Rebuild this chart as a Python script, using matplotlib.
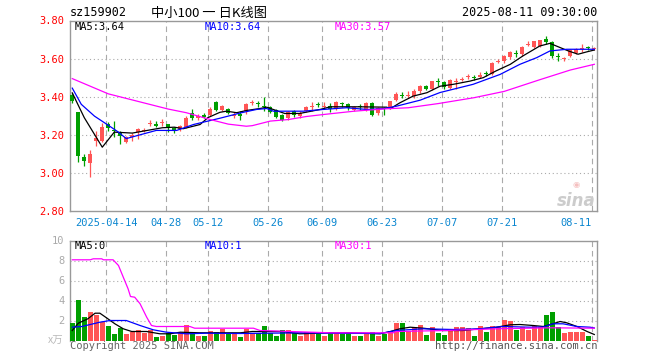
import matplotlib
matplotlib.use("Agg")
import matplotlib.pyplot as plt
import numpy as np

# K-line data, one entry per trading day (2025-04-03 .. 2025-08-11)
opens = [3.41, 3.32, 3.085, 3.05, 3.165, 3.17, 3.255, 3.225, 3.21, 3.16,
         3.19, 3.215, 3.22, 3.255, 3.255, 3.26, 3.255, 3.235, 3.23, 3.24,
         3.315, 3.29, 3.305, 3.305, 3.37, 3.33, 3.335, 3.30, 3.31, 3.325,
         3.365, 3.365, 3.35, 3.345, 3.33, 3.305, 3.29, 3.325, 3.30, 3.325,
         3.345, 3.36, 3.345, 3.35, 3.335, 3.365, 3.36, 3.33, 3.35, 3.33,
         3.365, 3.315, 3.34, 3.34, 3.385, 3.41, 3.405, 3.405, 3.43, 3.455,
         3.44, 3.48, 3.475, 3.445, 3.475, 3.49, 3.505, 3.505, 3.505, 3.525,
         3.52, 3.58, 3.59, 3.61, 3.63, 3.625, 3.67, 3.66, 3.665, 3.705,
         3.685, 3.615, 3.60, 3.615, 3.63, 3.65, 3.66, 3.65]
highs = [3.42, 3.32, 3.10, 3.12, 3.22, 3.26, 3.265, 3.27, 3.22, 3.195,
         3.21, 3.235, 3.235, 3.28, 3.275, 3.285, 3.255, 3.24, 3.25, 3.30,
         3.335, 3.31, 3.315, 3.345, 3.38, 3.355, 3.34, 3.32, 3.325, 3.365,
         3.385, 3.38, 3.40, 3.35, 3.335, 3.31, 3.325, 3.33, 3.325, 3.35,
         3.37, 3.37, 3.37, 3.365, 3.38, 3.37, 3.365, 3.35, 3.36, 3.37,
         3.37, 3.345, 3.345, 3.38, 3.425, 3.425, 3.43, 3.44, 3.46, 3.46,
         3.485, 3.50, 3.48, 3.495, 3.50, 3.505, 3.52, 3.515, 3.53, 3.535,
         3.58, 3.60, 3.62, 3.64, 3.645, 3.665, 3.69, 3.695, 3.70, 3.72,
         3.69, 3.63, 3.61, 3.65, 3.655, 3.675, 3.665, 3.66]
lows = [3.365, 3.055, 3.035, 2.98, 3.14, 3.16, 3.22, 3.19, 3.15, 3.155,
        3.17, 3.18, 3.215, 3.245, 3.24, 3.245, 3.215, 3.21, 3.22, 3.235,
        3.28, 3.28, 3.29, 3.30, 3.325, 3.325, 3.31, 3.29, 3.28, 3.31,
        3.355, 3.345, 3.325, 3.315, 3.29, 3.275, 3.28, 3.295, 3.29, 3.32,
        3.325, 3.345, 3.34, 3.32, 3.33, 3.345, 3.33, 3.325, 3.33, 3.325,
        3.30, 3.305, 3.305, 3.335, 3.375, 3.395, 3.395, 3.395, 3.42, 3.435,
        3.435, 3.455, 3.44, 3.44, 3.44, 3.48, 3.495, 3.49, 3.50, 3.51,
        3.515, 3.575, 3.575, 3.60, 3.61, 3.615, 3.665, 3.655, 3.66, 3.675,
        3.605, 3.585, 3.59, 3.61, 3.625, 3.635, 3.645, 3.645]
closes = [3.38, 3.09, 3.06, 3.10, 3.185, 3.24, 3.235, 3.22, 3.195, 3.19,
          3.20, 3.23, 3.225, 3.26, 3.245, 3.265, 3.235, 3.225, 3.245, 3.29,
          3.29, 3.30, 3.295, 3.335, 3.33, 3.35, 3.315, 3.305, 3.30, 3.36,
          3.37, 3.36, 3.345, 3.32, 3.295, 3.28, 3.32, 3.305, 3.315, 3.345,
          3.35, 3.355, 3.35, 3.335, 3.37, 3.36, 3.34, 3.345, 3.345, 3.365,
          3.305, 3.34, 3.335, 3.375, 3.415, 3.405, 3.41, 3.43, 3.455, 3.44,
          3.48, 3.475, 3.45, 3.49, 3.48, 3.495, 3.51, 3.50, 3.515, 3.52,
          3.575, 3.59, 3.615, 3.635, 3.625, 3.66, 3.675, 3.69, 3.70, 3.685,
          3.615, 3.61, 3.605, 3.645, 3.65, 3.655, 3.655, 3.655]
# volume (x10k)
volumes = [1.73, 4.1, 2.4, 2.9, 2.6, 1.83, 1.5, 0.67, 1.23, 0.67,
           0.83, 1.1, 0.73, 1.07, 0.4, 0.5, 0.73, 0.57, 0.9, 1.6,
           0.83, 0.5, 0.5, 1.0, 0.9, 1.17, 0.73, 0.67, 0.4, 1.17,
           0.73, 0.73, 1.5, 0.73, 0.5, 1.1, 1.1, 0.73, 0.5, 0.9,
           0.9, 0.67, 0.5, 0.9, 0.73, 0.67, 0.9, 0.5, 0.5, 0.73,
           0.9, 0.43, 0.67, 1.0, 1.73, 1.8, 1.0, 1.33, 1.6, 0.6,
           1.33, 0.73, 0.6, 1.0, 1.4, 1.33, 1.23, 0.5, 1.5, 0.83,
           1.5, 1.33, 2.1, 2.0, 1.07, 1.4, 1.1, 1.5, 1.33, 2.6,
           2.9, 1.4, 0.77, 0.9, 0.9, 0.83, 0.5, 0.1]

# moving average lines (day index, value)
ma5_x = [0, 2, 5, 7, 10, 15, 17, 18.5, 21.3, 22.6, 24.6, 25.7, 27.4, 29.1, 31.3, 32.4,
         35.4, 37.9, 41.3, 43, 48, 52.4, 53, 54.6, 56.8, 59.1, 61.3, 63.5, 66.3, 68.5,
         70.6, 73, 75.1, 77.9, 79.6, 81.3, 82.7, 84.3, 85.7, 87]
ma5_y = [3.42, 3.29, 3.135, 3.214, 3.209, 3.237, 3.24, 3.232, 3.254, 3.29, 3.318, 3.324,
         3.316, 3.328, 3.338, 3.345, 3.312, 3.312, 3.333, 3.347, 3.347, 3.345, 3.337,
         3.368, 3.403, 3.421, 3.455, 3.465, 3.482, 3.50, 3.535, 3.57, 3.614, 3.666,
         3.68, 3.658, 3.64, 3.623, 3.635, 3.645]
ma10_x = [0, 1.5, 3.7, 6, 7.6, 9, 11.3, 14, 17.4, 20.2, 24.6, 28.2, 30.7, 32.4, 33.5,
          38.5, 41.8, 45.7, 49.1, 51.8, 54, 58, 61.3, 66.8, 71.3, 74.6, 77.4, 79.6,
          82.4, 87]
ma10_y = [3.445, 3.36, 3.298, 3.25, 3.216, 3.18, 3.20, 3.223, 3.223, 3.254, 3.287,
          3.316, 3.333, 3.338, 3.324, 3.324, 3.333, 3.342, 3.333, 3.337, 3.35, 3.382,
          3.422, 3.465, 3.517, 3.57, 3.605, 3.64, 3.649, 3.649]
ma30_x = [0, 6, 16, 19, 23, 26, 29, 30, 33, 36, 39, 42, 47, 52, 56, 61, 67, 72, 78, 83, 87]
ma30_y = [3.495, 3.415, 3.335, 3.316, 3.28, 3.256, 3.245, 3.248, 3.272, 3.28, 3.296,
          3.307, 3.324, 3.336, 3.342, 3.364, 3.395, 3.428, 3.49, 3.54, 3.57]

vma5_x = [0, 1, 2.6, 3.8, 4.6, 5.7, 7.1, 8.5, 9.9, 12.4, 14.6, 16.3, 18, 21.3, 28, 30,
          35, 37.9, 43, 46.3, 51.3, 53, 54.6, 56.3, 58.5, 61.8, 65.1, 67.9, 70.7, 73,
          74.6, 76.8, 78.5, 80.1, 81.3, 82.4, 84.1, 85.8, 87]
vma5_y = [1.0, 1.73, 2.17, 2.73, 2.73, 2.27, 1.67, 1.17, 0.9, 0.9, 0.67, 0.67, 0.83,
          0.77, 0.77, 0.9, 0.9, 0.67, 0.77, 0.77, 0.67, 0.9, 1.17, 1.33, 1.23, 1.0, 1.0,
          1.17, 1.33, 1.57, 1.6, 1.5, 1.4, 1.67, 1.9, 1.77, 1.4, 0.9, 0.6]
vma10_x = [0, 1.6, 4.6, 6.3, 9, 11.3, 13.5, 15.7, 19, 22.4, 28, 38, 43, 51.3, 54, 58.5,
           63.5, 68, 71.8, 76.3, 78.5, 80.1, 81.8, 84.1, 86.3, 87]
vma10_y = [1.33, 1.4, 1.83, 2.0, 2.0, 1.5, 1.07, 0.83, 0.67, 0.73, 0.7, 0.77, 0.73, 0.7,
           1.0, 1.17, 1.1, 1.17, 1.4, 1.33, 1.35, 1.67, 1.67, 1.4, 1.33, 1.25]
vma30_x = [0, 3, 3.5, 4.9, 5.2, 6.8, 7.7, 8.5, 9.3, 9.7, 10.4, 11.3, 12.4, 13.2, 14,
           19.6, 20.4, 30.2, 31.3, 43, 53.5, 54, 62.4, 70.7, 79.6, 87]
vma30_y = [8.07, 8.07, 8.17, 8.17, 8.07, 8.07, 7.5, 6.33, 5.17, 4.4, 4.33, 3.67, 2.33,
           1.5, 1.4, 1.4, 1.23, 1.23, 1.0, 0.77, 0.77, 0.9, 1.0, 1.17, 1.27, 1.23]

date_ticks = [6, 16, 23, 33, 42, 52, 62, 72, 87]
date_labels = ['2025-04-14', '04-28', '05-12', '05-26', '06-09',
               '06-23', '07-07', '07-21', '08-11']
price_ticks = [2.80, 3.00, 3.20, 3.40, 3.60, 3.80]
vol_ticks = [2, 4, 6, 8, 10]

RED = '#ff5555'
GREEN = '#009f00'
GRID = '#aaaaaa'
MONO = 'DejaVu Sans Mono'
CJK = ['Noto Sans CJK SC', 'DejaVu Sans']

plt.rcParams['font.family'] = [MONO, 'Noto Sans CJK SC']
plt.rcParams['font.size'] = 7.5

fig = plt.figure(figsize=(6.6, 3.6), dpi=100)
W, H = 660.0, 360.0
ax = fig.add_axes([70 / W, 1 - 211 / H, 527 / W, 190.5 / H])
axv = fig.add_axes([70 / W, 1 - 340.5 / H, 527 / W, 100 / H])

o = np.array(opens)
c = np.array(closes)
x = np.arange(len(o))
up = c >= o
cols = np.where(up, RED, GREEN)
xlim = (-0.38, 87.45)
grid_x = np.array(date_ticks) - 0.38

# candles
ax.vlines(x, lows, highs, colors=cols, linewidth=0.9, zorder=3)
body = np.maximum(np.abs(c - o), 0.005)
ax.bar(x, body, bottom=np.minimum(o, c), width=0.7, color=cols, linewidth=0, zorder=4)
ax.plot(ma5_x, ma5_y, color='black', lw=0.9, zorder=5)
ax.plot(ma10_x, ma10_y, color='#0000ff', lw=0.9, zorder=5)
ax.plot(ma30_x, ma30_y, color='#ff00ff', lw=0.9, zorder=5)

ax.set_xlim(*xlim)
ax.set_ylim(2.80, 3.80)
ax.set_yticks(price_ticks)
ax.set_yticklabels(['%.2f' % p for p in price_ticks], color='#ff0000', fontsize=7.5)
ax.set_xticks(grid_x)
ax.set_xticklabels(date_labels, color='#0a86d0', fontsize=7.5)
ax.get_xticklabels()[-1].set_ha('right')
ax.tick_params(length=0, pad=4)
ax.tick_params(axis='x', pad=5)
for yv in price_ticks[1:-1]:
    ax.axhline(yv, color=GRID, lw=0.8, ls=(0, (1, 2.5)), zorder=1)
for gx in grid_x:
    ax.axvline(gx, color=GRID, lw=0.8, ls=(0, (5, 3.5)), zorder=1)

# volume
axv.bar(x, volumes, width=0.85, color=cols, linewidth=0, zorder=3)
axv.plot(vma5_x, vma5_y, color='black', lw=0.9, zorder=5)
axv.plot(vma10_x, vma10_y, color='#0000ff', lw=0.9, zorder=5)
axv.plot(vma30_x, vma30_y, color='#ff00ff', lw=0.9, zorder=5)
axv.set_xlim(*xlim)
axv.set_ylim(0, 10)
axv.set_yticks(vol_ticks)
axv.set_yticklabels([str(v) for v in vol_ticks], color='#aaaaaa', fontsize=7.5)
axv.set_xticks([])
axv.tick_params(length=0, pad=4)
for yv in vol_ticks[:-1]:
    axv.axhline(yv, color=GRID, lw=0.8, ls=(0, (1, 2.5)), zorder=1)
for gx in grid_x:
    axv.axvline(gx, color=GRID, lw=0.8, ls=(0, (5, 3.5)), zorder=1)
axv.spines['bottom'].set_visible(False)

for a in (ax, axv):
    for s in a.spines.values():
        s.set_color('#999999')
        s.set_linewidth(1.0)

# labels
def fx(px):
    return px / W

def fy(py):
    return 1 - py / H

fig.text(fx(70), fy(13), 'sz159902', fontsize=8.5, va='center', ha='left')
fig.text(fx(209), fy(13), '中小100 一 日K线图', family=CJK, fontsize=9.5,
         va='center', ha='center')
fig.text(fx(597), fy(13), '2025-08-11 09:30:00', fontsize=8.5, va='center', ha='right')

fig.text(fx(75), fy(27), 'MA5:3.64', fontsize=7.5, va='center', color='black')
fig.text(fx(205), fy(27), 'MA10:3.64', fontsize=7.5, va='center', color='#0000ff')
fig.text(fx(335), fy(27), 'MA30:3.57', fontsize=7.5, va='center', color='#ff00ff')
fig.text(fx(75), fy(246), 'MA5:0', fontsize=7.5, va='center', color='black')
fig.text(fx(205), fy(246), 'MA10:1', fontsize=7.5, va='center', color='#0000ff')
fig.text(fx(335), fy(246), 'MA30:1', fontsize=7.5, va='center', color='#ff00ff')

fig.text(fx(63), fy(341), 'x万', family=CJK, fontsize=7.5, va='center', ha='right',
         color='#bbbbbb')
fig.text(fx(70), fy(346), 'Copyright 2025 SINA.COM', fontsize=7.5, va='center',
         color='#666666')
fig.text(fx(597), fy(346), 'http://finance.sina.com.cn', fontsize=7.5, va='center',
         ha='right', color='#555555')

# sina watermark
fig.text(fx(596), fy(201), 'sina', fontsize=12, style='italic', weight='bold',
         family='DejaVu Sans', ha='right', va='center', color='#cccccc', zorder=0)
fig.text(fx(576), fy(184), '◉', fontsize=6, family='DejaVu Sans', ha='center',
         va='center', color='#f5c0c0', zorder=0)

fig.savefig('out.png', dpi=100)
